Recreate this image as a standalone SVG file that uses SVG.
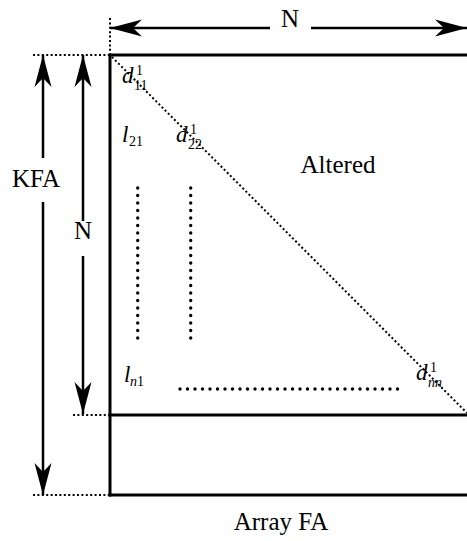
<svg xmlns="http://www.w3.org/2000/svg" width="467" height="541" viewBox="0 0 467 541">
<style>
text{font-family:'Liberation Serif','Times New Roman','DejaVu Serif',serif;fill:#000}
.lbl{font-size:25px}
.it{font-size:23px;font-style:italic}
.sm{font-size:14px}
.box{stroke:#000;stroke-width:3;fill:none}
.arr{stroke:#000;stroke-width:2.5;fill:none;marker-end:url(#ah)}
.guide{stroke:#000;stroke-width:2;stroke-dasharray:2 2.4;fill:none}
.dots{stroke:#000;stroke-width:3.4;stroke-linecap:round;stroke-dasharray:0 7.5;fill:none}
</style>
<defs>
<marker id="ah" viewBox="0 0 32 18" refX="32" refY="9" markerWidth="32" markerHeight="18" markerUnits="userSpaceOnUse" orient="auto">
<path d="M32,9 L0,0.5 L9,9 L0,17.5 Z" fill="#000"/>
</marker>
</defs>
<g id="array">
<line class="box" x1="110" y1="55" x2="110" y2="496.5"/>
<line class="box" x1="108.5" y1="55" x2="467" y2="55"/>
<line class="box" x1="108.5" y1="415" x2="467" y2="415"/>
<line class="box" x1="108.5" y1="495" x2="467" y2="495"/>
</g>
<g id="guides">
<line class="guide" x1="110" y1="18" x2="110" y2="54"/>
<line class="guide" x1="33" y1="55" x2="109" y2="55"/>
<line class="guide" x1="73" y1="415" x2="109" y2="415"/>
<line class="guide" x1="33" y1="495" x2="109" y2="495"/>
<line class="guide" x1="112" y1="57" x2="467" y2="413"/>
</g>
<g id="connectors">
<line class="arr" x1="270" y1="28" x2="110" y2="28"/>
<line class="arr" x1="311" y1="28" x2="467" y2="28"/>
<line class="arr" x1="43" y1="158" x2="43" y2="55"/>
<line class="arr" x1="43" y1="202" x2="43" y2="495"/>
<line class="arr" x1="83" y1="221" x2="83" y2="55"/>
<line class="arr" x1="83" y1="256" x2="83" y2="414"/>
</g>
<g id="dotted-fill">
<line class="dots" x1="137.7" y1="188" x2="137.7" y2="343"/>
<line class="dots" x1="190.7" y1="188" x2="190.7" y2="343"/>
<line class="dots" x1="180" y1="389" x2="401" y2="389"/>
</g>
<g id="labels">
<text class="lbl" x="290" y="27" text-anchor="middle">N</text>
<text class="lbl" x="36" y="187" text-anchor="middle">KFA</text>
<text class="lbl" x="83" y="239" text-anchor="middle">N</text>
<text class="lbl" x="338" y="173" text-anchor="middle">Altered</text>
<text class="lbl" x="281" y="530" text-anchor="middle">Array FA</text>
</g>
<g id="elements">
<text class="it" x="122" y="83">d</text><text class="sm" x="136" y="75">1</text><text class="sm" x="134" y="90">11</text>
<text class="it" x="122" y="142">l</text><text class="sm" x="129" y="146">21</text>
<text class="it" x="176" y="142">d</text><text class="sm" x="190" y="134">1</text><text class="sm" x="188" y="149">22</text>
<text class="it" x="124" y="382">l</text><text class="sm" x="130" y="386" font-style="italic">n</text><text class="sm" x="137" y="386">1</text>
<text class="it" x="416" y="380">d</text><text class="sm" x="430" y="372">1</text><text class="sm" x="428" y="387" font-style="italic">nn</text>
</g>
</svg>
